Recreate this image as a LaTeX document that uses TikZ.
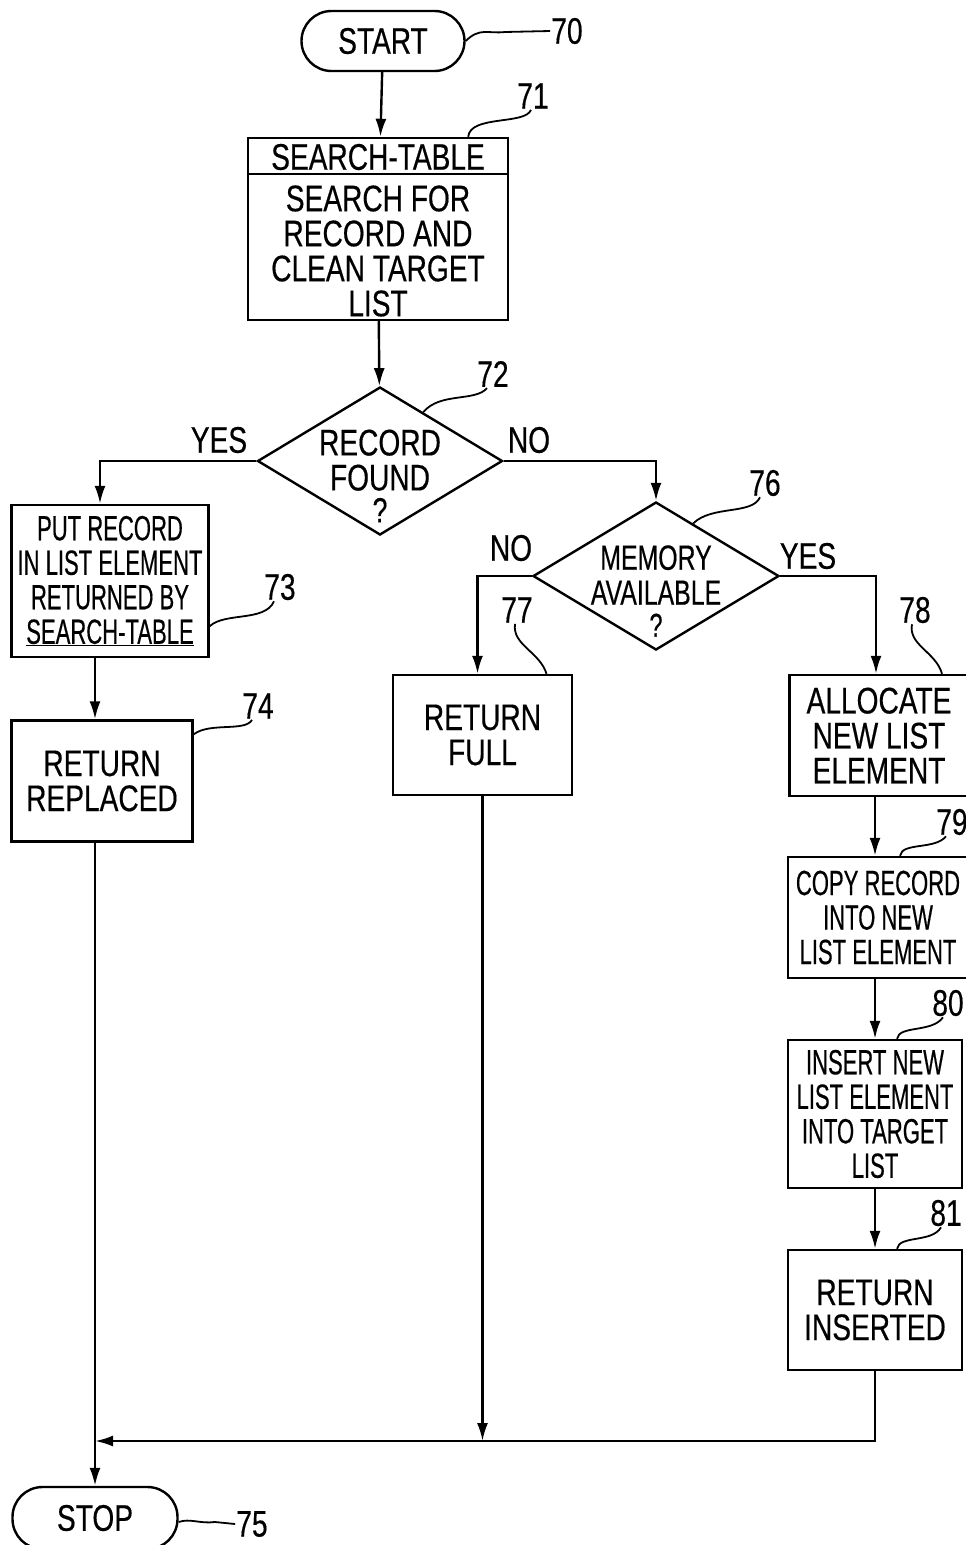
\documentclass[tikz,border=0pt]{standalone}
\usepackage{fontspec}
\setmainfont[FakeStretch=0.76,FakeBold=0.4]{Liberation Sans}
\newfontfamily\narrowfont[FakeStretch=0.63,FakeBold=0.4]{Liberation Sans}
\newfontfamily\midfont[FakeStretch=0.71,FakeBold=0.4]{Liberation Sans}
\usetikzlibrary{shapes.geometric,arrows.meta,calc}
\begin{document}
\begin{tikzpicture}[x=1pt,y=-1pt,line width=2.4pt,
  font=\fontsize{37}{35}\selectfont,
  box/.style={draw,rectangle,inner sep=0pt,align=center},
  term/.style={draw,rectangle,rounded corners=30pt,inner sep=0pt},
  dia/.style={draw,diamond,inner sep=0pt},
  txt/.style={align=center,inner sep=0pt},
  lab/.style={inner sep=0pt},
  nar/.style={font=\narrowfont\fontsize{35}{34.5}\selectfont},
  mid/.style={font=\midfont\fontsize{35}{35}\selectfont},
  arr/.style={-{Latex[length=18pt,width=11pt]}},
  lead/.style={line width=1.8pt}]
\useasboundingbox (0,0) rectangle (966,1545);
\clip (0,0) rectangle (966,1545);

% START
\node[term,minimum width=163pt,minimum height=60pt] (start) at (383,41) {START};
\node[lab] (l70) at (567,31) {70};
\draw[lead] (start.east) .. controls (480,27) and (488,34) .. (505,32) -- (l70.west);

% 71
\node[box,minimum width=260pt,minimum height=182pt] (b71) at (378,229) {};
\node[txt] (h71) at (378,157) {SEARCH-TABLE};
\node[txt] (t71) at (378,251) {SEARCH FOR\\RECORD AND\\CLEAN TARGET\\LIST};
\coordinate (div) at (0,174);
\draw (b71.west |- div) -- (b71.east |- div);
\node[lab] (l71) at (533,96) {71};
\draw[lead] ([xshift=-41pt]b71.north east) .. controls (470,115) and (525,125) .. ([xshift=-2pt]l71.south);
\draw[arr] (start) -- (b71);

% 72
\node[dia,minimum width=245pt,minimum height=148pt] (d72) at (380,461) {};
\node[txt] (t72) at (380,476) {RECORD\\FOUND\\[-3pt]{\fontsize{35}{30}\selectfont ?}};
\node[lab] (l72) at (493,374) {72};
\draw[lead] ($(d72.north)!0.35!(d72.east)$) .. controls (440,392) and (475,402) .. ([xshift=-6pt]l72.south);
\draw[arr] (b71) -- (d72);

% labels YES/NO
\node[lab] (yes1) at (219,440) {YES};
\node[lab] (no1) at (529,440) {NO};

% 73
\node[box,nar,minimum width=197pt,minimum height=152pt] (b73) at (110,581) {PUT RECORD\\IN LIST ELEMENT\\RETURNED BY\\\underline{SEARCH-TABLE}};
\node[lab] (l73) at (280,587) {73};
\draw[lead] ([yshift=32pt]b73.south east) .. controls (225,612) and (265,622) .. ([xshift=-6pt]l73.south);
\draw[arr] (d72.west) -| ([xshift=-10pt]b73.north);

% 74
\node[box,minimum width=181pt,minimum height=121pt] (b74) at (102,781) {RETURN\\REPLACED};
\node[lab] (l74) at (258,706) {74};
\draw[lead] ([yshift=-15pt]b74.north east) .. controls (210,722) and (245,732) .. ([xshift=-6pt]l74.south);

% STOP
\node[term,minimum width=165pt,minimum height=62pt] (stop) at (95,1518) {STOP};
\node[lab] (l75) at (252,1524) {75};
\draw[lead] ([yshift=-4pt]stop.east) .. controls (190,1518) and (200,1524) .. (215,1522) -- (l75.west);

\draw[arr] (b73.south -| stop.north) -- (b74.north -| stop.north);

% 76
\node[dia,minimum width=246pt,minimum height=148pt] (d76) at (656,576) {};
\node[txt,mid] (t76) at (656,591) {MEMORY\\AVAILABLE\\[-3pt]{\fontsize{33}{30}\selectfont ?}};
\node[lab] (l76) at (765,483) {76};
\draw[lead] ($(d76.north)!0.3!(d76.east)$) .. controls (712,505) and (752,515) .. ([xshift=-5pt]l76.south);
\draw[arr] (d72.east) -| (d76.north);
\node[lab] (no2) at (511,548) {NO};
\node[lab] (yes2) at (808,556) {YES};

% 77
\node[box,minimum width=179pt,minimum height=120pt] (b77) at (482.5,735) {RETURN\\FULL};
\node[lab] (l77) at (517,610) {77};
\draw[lead] ([xshift=-2pt]l77.south) .. controls (512,645) and (540,652) .. ([xshift=64pt]b77.north);
\draw[arr] (d76.west) -| ([xshift=-5pt]b77.north);

% 78
\node[box,minimum width=179pt,minimum height=121pt] (b78) at (879,735.5) {ALLOCATE\\NEW LIST\\ELEMENT};
\node[lab] (l78) at (915,610) {78};
\draw[lead] ([xshift=-3pt]l78.south) .. controls (908,645) and (936,652) .. ([xshift=63pt]b78.north);
\draw[arr] (d76.east) -| ([xshift=-3pt]b78.north);

% 79
\node[box,nar,minimum width=180pt,minimum height=121pt] (b79) at (878,917.5) {COPY RECORD\\INTO NEW\\LIST ELEMENT};
\node[lab] (l79) at (952,822) {79};
\draw[lead] ([xshift=22pt]b79.north) .. controls (902,842) and (935,850) .. ([xshift=-6pt]l79.south);

% 80
\node[box,nar,minimum width=174pt,minimum height=148pt] (b80) at (875,1114) {INSERT NEW\\LIST ELEMENT\\INTO TARGET\\LIST};
\node[lab] (l80) at (948,1003) {80};
\draw[lead] ([xshift=22pt]b80.north) .. controls (899,1025) and (932,1033) .. ([xshift=-5pt]l80.south);

% 81
\node[box,minimum width=174pt,minimum height=120pt] (b81) at (875,1310) {RETURN\\INSERTED};
\node[lab] (l81) at (946,1213) {81};
\draw[lead] ([xshift=22pt]b81.north) .. controls (899,1235) and (932,1243) .. ([xshift=-5pt]l81.south);

\draw[arr] (b78.south -| b81.north) -- (b79.north -| b81.north);
\draw[arr] (b79.south -| b81.north) -- (b80.north -| b81.north);
\draw[arr] (b80.south -| b81.north) -- (b81.north);

% merge
\coordinate (m) at (95,1441);
\draw[arr] (b81.south) |- (m);
\draw[arr] (b77.south) -- (b77.south |- m);
\draw[arr] (b74.south -| stop.north) -- (stop.north);
\end{tikzpicture}
\end{document}
